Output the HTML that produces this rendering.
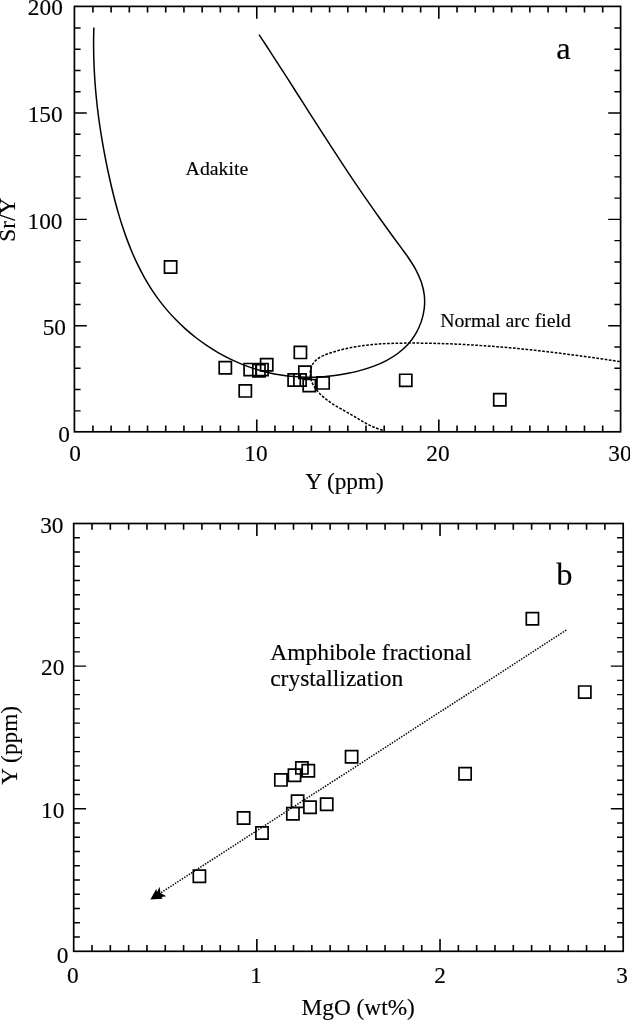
<!DOCTYPE html>
<html lang="en"><head><meta charset="utf-8"><title>Figure</title>
<style>html,body{margin:0;padding:0;background:#fff}svg{display:block}</style>
</head><body>
<svg width="630" height="1021" viewBox="0 0 630 1021">
<rect width="630" height="1021" fill="#fff"/>
<path d="M92.91 431.8 v-6.2 M92.91 6.4 v6.2 M111.11 431.8 v-6.2 M111.11 6.4 v6.2 M129.32 431.8 v-6.2 M129.32 6.4 v6.2 M147.53 431.8 v-6.2 M147.53 6.4 v6.2 M165.73 431.8 v-6.2 M165.73 6.4 v6.2 M183.94 431.8 v-6.2 M183.94 6.4 v6.2 M202.15 431.8 v-6.2 M202.15 6.4 v6.2 M220.35 431.8 v-6.2 M220.35 6.4 v6.2 M238.56 431.8 v-6.2 M238.56 6.4 v6.2 M256.77 431.8 v-12.4 M256.77 6.4 v12.4 M274.97 431.8 v-6.2 M274.97 6.4 v6.2 M293.18 431.8 v-6.2 M293.18 6.4 v6.2 M311.39 431.8 v-6.2 M311.39 6.4 v6.2 M329.59 431.8 v-6.2 M329.59 6.4 v6.2 M347.8 431.8 v-6.2 M347.8 6.4 v6.2 M366.01 431.8 v-6.2 M366.01 6.4 v6.2 M384.21 431.8 v-6.2 M384.21 6.4 v6.2 M402.42 431.8 v-6.2 M402.42 6.4 v6.2 M420.63 431.8 v-6.2 M420.63 6.4 v6.2 M438.83 431.8 v-12.4 M438.83 6.4 v12.4 M457.04 431.8 v-6.2 M457.04 6.4 v6.2 M475.25 431.8 v-6.2 M475.25 6.4 v6.2 M493.45 431.8 v-6.2 M493.45 6.4 v6.2 M511.66 431.8 v-6.2 M511.66 6.4 v6.2 M529.87 431.8 v-6.2 M529.87 6.4 v6.2 M548.07 431.8 v-6.2 M548.07 6.4 v6.2 M566.28 431.8 v-6.2 M566.28 6.4 v6.2 M584.49 431.8 v-6.2 M584.49 6.4 v6.2 M602.69 431.8 v-6.2 M602.69 6.4 v6.2" fill="none" stroke="#000" stroke-width="1.6"/>
<path d="M74.4 410.83 h6.2 M620.6 410.83 h-6.2 M74.4 389.56 h6.2 M620.6 389.56 h-6.2 M74.4 368.29 h6.2 M620.6 368.29 h-6.2 M74.4 347.02 h6.2 M620.6 347.02 h-6.2 M74.4 325.75 h12.4 M620.6 325.75 h-12.4 M74.4 304.48 h6.2 M620.6 304.48 h-6.2 M74.4 283.21 h6.2 M620.6 283.21 h-6.2 M74.4 261.94 h6.2 M620.6 261.94 h-6.2 M74.4 240.67 h6.2 M620.6 240.67 h-6.2 M74.4 219.4 h12.4 M620.6 219.4 h-12.4 M74.4 198.13 h6.2 M620.6 198.13 h-6.2 M74.4 176.86 h6.2 M620.6 176.86 h-6.2 M74.4 155.59 h6.2 M620.6 155.59 h-6.2 M74.4 134.32 h6.2 M620.6 134.32 h-6.2 M74.4 113.05 h12.4 M620.6 113.05 h-12.4 M74.4 91.78 h6.2 M620.6 91.78 h-6.2 M74.4 70.51 h6.2 M620.6 70.51 h-6.2 M74.4 49.24 h6.2 M620.6 49.24 h-6.2 M74.4 27.97 h6.2 M620.6 27.97 h-6.2" fill="none" stroke="#000" stroke-width="1.4"/>
<rect x="74.4" y="6.4" width="546.2" height="425.4" fill="none" stroke="#000" stroke-width="1.7"/>
<path d="M92.02 951.3 v-6.2 M92.02 523.5 v6.2 M110.33 951.3 v-6.2 M110.33 523.5 v6.2 M128.65 951.3 v-6.2 M128.65 523.5 v6.2 M146.97 951.3 v-6.2 M146.97 523.5 v6.2 M165.28 951.3 v-6.2 M165.28 523.5 v6.2 M183.6 951.3 v-6.2 M183.6 523.5 v6.2 M201.92 951.3 v-6.2 M201.92 523.5 v6.2 M220.23 951.3 v-6.2 M220.23 523.5 v6.2 M238.55 951.3 v-6.2 M238.55 523.5 v6.2 M256.87 951.3 v-12.4 M256.87 523.5 v12.4 M275.18 951.3 v-6.2 M275.18 523.5 v6.2 M293.5 951.3 v-6.2 M293.5 523.5 v6.2 M311.82 951.3 v-6.2 M311.82 523.5 v6.2 M330.13 951.3 v-6.2 M330.13 523.5 v6.2 M348.45 951.3 v-6.2 M348.45 523.5 v6.2 M366.77 951.3 v-6.2 M366.77 523.5 v6.2 M385.08 951.3 v-6.2 M385.08 523.5 v6.2 M403.4 951.3 v-6.2 M403.4 523.5 v6.2 M421.72 951.3 v-6.2 M421.72 523.5 v6.2 M440.03 951.3 v-12.4 M440.03 523.5 v12.4 M458.35 951.3 v-6.2 M458.35 523.5 v6.2 M476.67 951.3 v-6.2 M476.67 523.5 v6.2 M494.98 951.3 v-6.2 M494.98 523.5 v6.2 M513.3 951.3 v-6.2 M513.3 523.5 v6.2 M531.62 951.3 v-6.2 M531.62 523.5 v6.2 M549.93 951.3 v-6.2 M549.93 523.5 v6.2 M568.25 951.3 v-6.2 M568.25 523.5 v6.2 M586.57 951.3 v-6.2 M586.57 523.5 v6.2 M604.88 951.3 v-6.2 M604.88 523.5 v6.2" fill="none" stroke="#000" stroke-width="1.6"/>
<path d="M73.7 937.04 h6.2 M623.2 937.04 h-6.2 M73.7 922.78 h6.2 M623.2 922.78 h-6.2 M73.7 908.52 h6.2 M623.2 908.52 h-6.2 M73.7 894.26 h6.2 M623.2 894.26 h-6.2 M73.7 880 h6.2 M623.2 880 h-6.2 M73.7 865.74 h6.2 M623.2 865.74 h-6.2 M73.7 851.48 h6.2 M623.2 851.48 h-6.2 M73.7 837.22 h6.2 M623.2 837.22 h-6.2 M73.7 822.96 h6.2 M623.2 822.96 h-6.2 M73.7 808.7 h12.4 M623.2 808.7 h-12.4 M73.7 794.44 h6.2 M623.2 794.44 h-6.2 M73.7 780.18 h6.2 M623.2 780.18 h-6.2 M73.7 765.92 h6.2 M623.2 765.92 h-6.2 M73.7 751.66 h6.2 M623.2 751.66 h-6.2 M73.7 737.4 h6.2 M623.2 737.4 h-6.2 M73.7 723.14 h6.2 M623.2 723.14 h-6.2 M73.7 708.88 h6.2 M623.2 708.88 h-6.2 M73.7 694.62 h6.2 M623.2 694.62 h-6.2 M73.7 680.36 h6.2 M623.2 680.36 h-6.2 M73.7 666.1 h12.4 M623.2 666.1 h-12.4 M73.7 651.84 h6.2 M623.2 651.84 h-6.2 M73.7 637.58 h6.2 M623.2 637.58 h-6.2 M73.7 623.32 h6.2 M623.2 623.32 h-6.2 M73.7 609.06 h6.2 M623.2 609.06 h-6.2 M73.7 594.8 h6.2 M623.2 594.8 h-6.2 M73.7 580.54 h6.2 M623.2 580.54 h-6.2 M73.7 566.28 h6.2 M623.2 566.28 h-6.2 M73.7 552.02 h6.2 M623.2 552.02 h-6.2 M73.7 537.76 h6.2 M623.2 537.76 h-6.2" fill="none" stroke="#000" stroke-width="1.4"/>
<rect x="73.7" y="523.5" width="549.5" height="427.8" fill="none" stroke="#000" stroke-width="1.7"/>
<path d="M93.84 27.56 C93.8 29.86 93.62 36.77 93.6 41.35 C93.58 45.92 93.63 50.46 93.72 54.99 C93.82 59.52 93.98 64.02 94.19 68.52 C94.4 73.01 94.66 77.48 94.98 81.94 C95.3 86.4 95.67 90.84 96.09 95.28 C96.52 99.71 96.99 104.13 97.51 108.55 C98.03 112.96 98.6 117.37 99.22 121.77 C99.84 126.17 100.5 130.56 101.21 134.96 C101.92 139.35 102.67 143.74 103.47 148.14 C104.26 152.53 105.1 156.92 105.98 161.32 C106.85 165.72 107.77 170.12 108.73 174.53 C109.68 178.93 110.68 183.35 111.72 187.76 C112.77 192.16 113.86 196.57 115.01 200.96 C116.16 205.35 117.36 209.73 118.64 214.09 C119.92 218.44 121.25 222.78 122.67 227.08 C124.09 231.38 125.58 235.66 127.16 239.88 C128.74 244.11 130.39 248.3 132.15 252.44 C133.91 256.57 135.75 260.67 137.71 264.7 C139.66 268.72 141.71 272.7 143.88 276.6 C146.05 280.5 148.33 284.34 150.73 288.09 C153.13 291.84 155.65 295.53 158.3 299.12 C160.95 302.71 163.73 306.22 166.63 309.62 C169.53 313.03 172.56 316.35 175.69 319.56 C178.82 322.77 182.07 325.88 185.41 328.87 C188.76 331.86 192.21 334.75 195.76 337.51 C199.3 340.27 202.94 342.92 206.66 345.43 C210.38 347.94 214.19 350.33 218.07 352.58 C221.95 354.82 225.92 356.94 229.94 358.9 C233.96 360.87 238.06 362.69 242.21 364.35 C246.35 366.02 250.57 367.53 254.82 368.88 C259.07 370.23 263.39 371.41 267.73 372.44 C272.07 373.46 276.46 374.32 280.87 375.01 C285.28 375.71 289.73 376.24 294.19 376.61 C298.65 376.98 303.14 377.19 307.63 377.24 C312.12 377.29 316.64 377.18 321.14 376.9 C325.64 376.63 330.16 376.19 334.65 375.6 C339.15 375.01 343.65 374.25 348.11 373.34 C352.58 372.42 357.07 371.37 361.47 370.12 C365.86 368.87 370.27 367.48 374.5 365.84 C378.73 364.2 382.9 362.39 386.83 360.29 C390.76 358.2 394.57 355.89 398.07 353.25 C401.56 350.62 404.88 347.73 407.81 344.49 C410.74 341.25 413.42 337.64 415.66 333.83 C417.9 330.02 419.82 325.83 421.26 321.62 C422.69 317.4 423.75 312.92 424.26 308.52 C424.76 304.13 424.79 299.61 424.31 295.24 C423.83 290.87 422.76 286.52 421.37 282.33 C419.99 278.13 418.07 274.05 416 270.08 C413.92 266.11 411.42 262.3 408.91 258.52 C406.4 254.74 403.61 251.08 400.93 247.4 C398.25 243.72 395.52 240.09 392.85 236.44 C390.18 232.8 387.53 229.17 384.91 225.53 C382.28 221.89 379.68 218.26 377.09 214.62 C374.51 210.98 371.94 207.34 369.39 203.68 C366.83 200.02 364.3 196.34 361.77 192.66 C359.25 188.97 356.73 185.27 354.23 181.55 C351.73 177.84 349.24 174.11 346.76 170.38 C344.28 166.64 341.81 162.9 339.34 159.14 C336.88 155.39 334.42 151.63 331.98 147.86 C329.53 144.09 327.09 140.31 324.65 136.53 C322.21 132.75 319.78 128.97 317.35 125.18 C314.92 121.39 312.5 117.6 310.08 113.81 C307.65 110.02 305.24 106.22 302.82 102.43 C300.4 98.64 297.98 94.84 295.56 91.05 C293.14 87.26 290.72 83.47 288.29 79.69 C285.87 75.9 283.44 72.12 281.01 68.35 C278.58 64.57 276.15 60.8 273.71 57.04 C271.27 53.28 268.83 49.53 266.38 45.78 C263.92 42.04 260.23 36.45 259 34.58" fill="none" stroke="#000" stroke-width="1.5" stroke-linejoin="round"/>
<path d="M619.79 361.57 C618.38 361.35 614.17 360.72 611.37 360.3 C608.56 359.88 605.75 359.46 602.93 359.06 C600.12 358.65 597.3 358.24 594.49 357.84 C591.67 357.44 588.85 357.05 586.03 356.66 C583.21 356.27 580.39 355.89 577.57 355.51 C574.74 355.14 571.92 354.76 569.09 354.4 C566.26 354.04 563.44 353.68 560.61 353.33 C557.78 352.97 554.95 352.63 552.11 352.29 C549.28 351.95 546.45 351.62 543.61 351.3 C540.78 350.98 537.94 350.66 535.11 350.35 C532.27 350.05 529.43 349.75 526.6 349.45 C523.76 349.16 520.92 348.88 518.08 348.6 C515.24 348.33 512.4 348.06 509.55 347.81 C506.71 347.55 503.87 347.3 501.03 347.06 C498.19 346.82 495.34 346.59 492.5 346.37 C489.65 346.15 486.81 345.94 483.97 345.75 C481.12 345.55 478.28 345.36 475.43 345.18 C472.59 345 469.74 344.83 466.9 344.67 C464.05 344.52 461.21 344.37 458.36 344.23 C455.52 344.1 452.67 343.97 449.83 343.86 C446.98 343.75 444.14 343.65 441.29 343.56 C438.45 343.47 435.6 343.4 432.76 343.33 C429.91 343.27 427.07 343.22 424.23 343.18 C421.39 343.14 418.54 343.11 415.7 343.1 C412.86 343.09 410.02 343.09 407.18 343.11 C404.34 343.12 401.5 343.15 398.66 343.2 C395.82 343.25 392.98 343.32 390.15 343.43 C387.31 343.54 384.47 343.67 381.64 343.84 C378.81 344.02 375.97 344.22 373.14 344.48 C370.31 344.75 367.48 345.04 364.65 345.4 C361.82 345.76 359 346.17 356.17 346.65 C353.35 347.12 350.53 347.65 347.71 348.26 C344.89 348.87 342.07 349.54 339.25 350.29 C336.44 351.05 333.58 351.85 330.82 352.79 C328.05 353.74 325.15 354.68 322.65 355.95 C320.14 357.22 317.66 358.59 315.78 360.41 C313.9 362.23 312.31 364.4 311.39 366.87 C310.47 369.33 310.09 372.41 310.28 375.19 C310.46 377.97 311.33 380.96 312.49 383.56 C313.66 386.17 315.47 388.59 317.26 390.82 C319.06 393.05 321.13 395.04 323.26 396.93 C325.39 398.82 327.71 400.52 330.06 402.16 C332.41 403.8 334.9 405.3 337.37 406.78 C339.85 408.27 342.41 409.65 344.91 411.07 C347.42 412.5 349.94 413.89 352.39 415.32 C354.85 416.75 357.23 418.24 359.66 419.65 C362.09 421.07 364.47 422.51 366.96 423.82 C369.45 425.13 371.95 426.41 374.6 427.49 C377.26 428.58 381.51 429.87 382.89 430.35" fill="none" stroke="#000" stroke-width="1.5" stroke-dasharray="2.7 1.5"/>
<path d="M164.5 260.9h12.2v12.2h-12.2zM219.2 361.7h12.2v12.2h-12.2zM239.2 384.8h12.2v12.2h-12.2zM244.1 363.5h12.2v12.2h-12.2zM252.8 364.6h12.2v12.2h-12.2zM255.9 363.5h12.2v12.2h-12.2zM260.6 358.6h12.2v12.2h-12.2zM294.3 346.3h12.2v12.2h-12.2zM288.1 373.9h12.2v12.2h-12.2zM293.9 373.9h12.2v12.2h-12.2zM298.8 366.1h12.2v12.2h-12.2zM303.2 379.5h12.2v12.2h-12.2zM317 376.8h12.2v12.2h-12.2zM399.66 374.23h12.2v12.2h-12.2zM493.7 393.7h12.2v12.2h-12.2zM193.3 870.2h12.2v12.2h-12.2zM237.5 811.9h12.2v12.2h-12.2zM255.9 826.9h12.2v12.2h-12.2zM274.8 773.8h12.2v12.2h-12.2zM286.8 807.6h12.2v12.2h-12.2zM288.4 769.1h12.2v12.2h-12.2zM291.5 795.2h12.2v12.2h-12.2zM295.8 761.8h12.2v12.2h-12.2zM302.2 764.6h12.2v12.2h-12.2zM303.9 801.2h12.2v12.2h-12.2zM320.6 798.2h12.2v12.2h-12.2zM345.5 750.6h12.2v12.2h-12.2zM458.98 767.65h12.2v12.2h-12.2zM526.3 612.7h12.2v12.2h-12.2zM578.7 686h12.2v12.2h-12.2z" fill="none" stroke="#000" stroke-width="1.7"/>
<path d="M566.2 630.2L156 896" fill="none" stroke="#000" stroke-width="1.5" stroke-dasharray="1.45 1.3"/>
<path d="M150.4 899.5L156.2 888.9L157.1 892.1L159.7 886.7L160.4 892.9L166.4 896.3L161.6 896.9L162.6 898.7Z" fill="#000"/>
<text x="62.8" y="15" font-size="23.3" text-anchor="end" font-family="'Liberation Serif', 'Times New Roman', serif" fill="#000" stroke="#000" stroke-width="0.15" >200</text>
<text x="62.6" y="122" font-size="23.3" text-anchor="end" font-family="'Liberation Serif', 'Times New Roman', serif" fill="#000" stroke="#000" stroke-width="0.15" >150</text>
<text x="62.5" y="228.5" font-size="23.3" text-anchor="end" font-family="'Liberation Serif', 'Times New Roman', serif" fill="#000" stroke="#000" stroke-width="0.15" >100</text>
<text x="66" y="334.7" font-size="23.3" text-anchor="end" font-family="'Liberation Serif', 'Times New Roman', serif" fill="#000" stroke="#000" stroke-width="0.15" >50</text>
<text x="70" y="441.5" font-size="23.3" text-anchor="end" font-family="'Liberation Serif', 'Times New Roman', serif" fill="#000" stroke="#000" stroke-width="0.15" >0</text>
<text x="75" y="461" font-size="23.3" text-anchor="middle" font-family="'Liberation Serif', 'Times New Roman', serif" fill="#000" stroke="#000" stroke-width="0.15" >0</text>
<text x="256" y="461" font-size="23.3" text-anchor="middle" font-family="'Liberation Serif', 'Times New Roman', serif" fill="#000" stroke="#000" stroke-width="0.15" >10</text>
<text x="438" y="461" font-size="23.3" text-anchor="middle" font-family="'Liberation Serif', 'Times New Roman', serif" fill="#000" stroke="#000" stroke-width="0.15" >20</text>
<text x="620" y="461" font-size="23.3" text-anchor="middle" font-family="'Liberation Serif', 'Times New Roman', serif" fill="#000" stroke="#000" stroke-width="0.15" >30</text>
<text x="344.5" y="488.7" font-size="23.3" text-anchor="middle" font-family="'Liberation Serif', 'Times New Roman', serif" fill="#000" stroke="#000" stroke-width="0.15" >Y (ppm)</text>
<text transform="translate(14.9 219.8) rotate(-90)" font-size="23.3" text-anchor="middle" font-family="'Liberation Serif', 'Times New Roman', serif" fill="#000" stroke="#000" stroke-width="0.15">Sr/Y</text>
<text x="185.6" y="174.5" font-size="19.8" text-anchor="start" font-family="'Liberation Serif', 'Times New Roman', serif" fill="#000" stroke="#000" stroke-width="0.15" >Adakite</text>
<text x="440.2" y="327.1" font-size="19.8" text-anchor="start" font-family="'Liberation Serif', 'Times New Roman', serif" fill="#000" stroke="#000" stroke-width="0.15" >Normal arc field</text>
<text x="556.3" y="58.7" font-size="32.5" text-anchor="start" font-family="'Liberation Serif', 'Times New Roman', serif" fill="#000" stroke="#000" stroke-width="0.15" >a</text>
<text x="63.5" y="533" font-size="23.3" text-anchor="end" font-family="'Liberation Serif', 'Times New Roman', serif" fill="#000" stroke="#000" stroke-width="0.15" >30</text>
<text x="64.3" y="675.3" font-size="23.3" text-anchor="end" font-family="'Liberation Serif', 'Times New Roman', serif" fill="#000" stroke="#000" stroke-width="0.15" >20</text>
<text x="64.3" y="817.9" font-size="23.3" text-anchor="end" font-family="'Liberation Serif', 'Times New Roman', serif" fill="#000" stroke="#000" stroke-width="0.15" >10</text>
<text x="68.4" y="962.6" font-size="23.3" text-anchor="end" font-family="'Liberation Serif', 'Times New Roman', serif" fill="#000" stroke="#000" stroke-width="0.15" >0</text>
<text x="72.9" y="982.6" font-size="23.3" text-anchor="middle" font-family="'Liberation Serif', 'Times New Roman', serif" fill="#000" stroke="#000" stroke-width="0.15" >0</text>
<text x="256" y="982.6" font-size="23.3" text-anchor="middle" font-family="'Liberation Serif', 'Times New Roman', serif" fill="#000" stroke="#000" stroke-width="0.15" >1</text>
<text x="440" y="982.6" font-size="23.3" text-anchor="middle" font-family="'Liberation Serif', 'Times New Roman', serif" fill="#000" stroke="#000" stroke-width="0.15" >2</text>
<text x="622.2" y="982.6" font-size="23.3" text-anchor="middle" font-family="'Liberation Serif', 'Times New Roman', serif" fill="#000" stroke="#000" stroke-width="0.15" >3</text>
<text x="358.2" y="1015.1" font-size="23.3" text-anchor="middle" font-family="'Liberation Serif', 'Times New Roman', serif" fill="#000" stroke="#000" stroke-width="0.15" >MgO (wt%)</text>
<text transform="translate(17.2 745.3) rotate(-90)" font-size="23.3" text-anchor="middle" font-family="'Liberation Serif', 'Times New Roman', serif" fill="#000" stroke="#000" stroke-width="0.15">Y (ppm)</text>
<text x="270.2" y="660.1" font-size="23.5" text-anchor="start" font-family="'Liberation Serif', 'Times New Roman', serif" fill="#000" stroke="#000" stroke-width="0.15" >Amphibole fractional</text>
<text x="270.2" y="686.4" font-size="23.5" text-anchor="start" font-family="'Liberation Serif', 'Times New Roman', serif" fill="#000" stroke="#000" stroke-width="0.15" >crystallization</text>
<text x="556.3" y="584.8" font-size="32.5" text-anchor="start" font-family="'Liberation Serif', 'Times New Roman', serif" fill="#000" stroke="#000" stroke-width="0.15" >b</text>
</svg>
</body></html>
